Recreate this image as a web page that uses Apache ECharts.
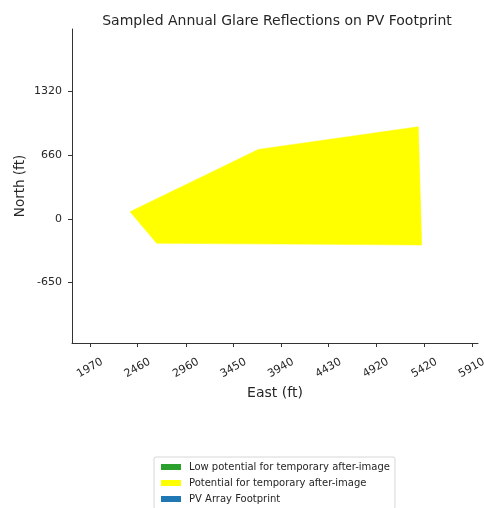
<!DOCTYPE html>
<html><head><meta charset="utf-8">
<script src="https://cdn.jsdelivr.net/npm/echarts@6/dist/echarts.min.js"></script>
<style>html,body{margin:0;padding:0;background:#fff}#c{width:484px;height:508px}</style>
</head><body><div id="c"></div>
<script>
// Data (ft)
var glareEast  = [2383, 2658, 4430, 5393, 5358, 3707];
var glareNorth = [76, -251, -262, -269, 955, 721];
var lowPotentialPoints = [];
var footprintPoints = [];
var xTicks = [1970, 2460, 2960, 3450, 3940, 4430, 4920, 5420, 5910];
var yTicks = [-650, 0, 660, 1320];

var polyData = glareEast.map(function (e, i) { return [e, glareNorth[i]]; });

function polyRender(params, api) {
  if (params.dataIndex !== 0) return;
  var pts = polyData.map(function (p) { return api.coord(p); });
  return {
    type: 'polygon',
    shape: { points: pts },
    style: { fill: api.visual('color'), stroke: api.visual('color'), lineWidth: 0.5 }
  };
}

var chart = echarts.init(document.getElementById('c'));
var textColor = '#262626';
chart.setOption({
  animation: false,
  backgroundColor: '#fff',
  textStyle: { fontFamily: 'DejaVu Sans' },
  title: {
    text: 'Sampled Annual Glare Reflections on PV Footprint',
    left: 272, top: 9, textAlign: 'center',
    textStyle: { fontSize: 14, fontWeight: 'normal', color: textColor, fontFamily: 'DejaVu Sans' }
  },
  grid: { left: 72, right: 6, top: 29, bottom: 165, outerBoundsMode: 'none', containLabel: false },
  legend: {
    orient: 'vertical', left: 154, top: 457, height: 80,
    itemWidth: 20, itemHeight: 6, itemGap: 4,
    padding: [4, 5, 4, 7],
    borderColor: '#d6d6d6', borderWidth: 1, borderRadius: 2,
    icon: 'rect',
    textStyle: { fontSize: 10, lineHeight: 12, color: textColor, fontFamily: 'DejaVu Sans', padding: [0, 0, 0, 3] },
    data: ['Low potential for temporary after-image', 'Potential for temporary after-image', 'PV Array Footprint']
  },
  xAxis: {
    type: 'value', min: 1784, max: 5974,
    name: 'East (ft)', nameLocation: 'middle', nameGap: 42,
    nameTextStyle: { fontSize: 14, color: textColor },
    axisLine: { show: true, onZero: false, lineStyle: { color: '#333', width: 1 } },
    axisTick: { show: true, length: 4, customValues: xTicks, lineStyle: { color: '#333' } },
    axisLabel: { customValues: xTicks, rotate: 30, align: 'center', verticalAlign: 'middle', margin: 25,
      fontSize: 11, color: textColor, hideOverlap: false, formatter: function (v) { return String(v); } },
    splitLine: { show: false }
  },
  yAxis: {
    type: 'value', min: -1283, max: 1967,
    name: 'North (ft)', nameLocation: 'middle', nameGap: 45, nameMoveOverlap: false,
    nameTextStyle: { fontSize: 13.5, color: textColor },
    axisLine: { show: true, onZero: false, lineStyle: { color: '#333', width: 1 } },
    axisTick: { show: true, length: 4, customValues: yTicks, lineStyle: { color: '#333' } },
    axisLabel: { customValues: yTicks, margin: 10, fontSize: 11, color: textColor,
      formatter: function (v) { return String(v); } },
    splitLine: { show: false }
  },
  series: [
    { name: 'Low potential for temporary after-image', type: 'custom', data: lowPotentialPoints,
      itemStyle: { color: '#2ca02c' }, renderItem: function () { return; } },
    { name: 'Potential for temporary after-image', type: 'custom', data: polyData,
      itemStyle: { color: '#ffff00' }, renderItem: polyRender, silent: true },
    { name: 'PV Array Footprint', type: 'custom', data: footprintPoints,
      itemStyle: { color: '#1f77b4' }, renderItem: function () { return; } }
  ]
});
</script></body></html>
